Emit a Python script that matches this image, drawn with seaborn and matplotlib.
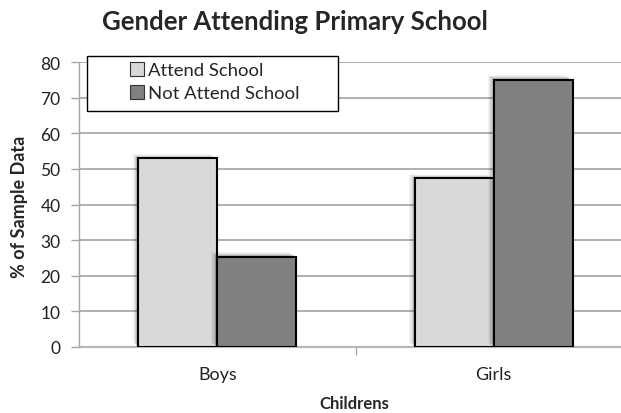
import matplotlib
matplotlib.use("Agg")
import matplotlib.pyplot as plt
import matplotlib.patheffects as pe
from matplotlib.patches import Patch, Rectangle
from matplotlib.ticker import FixedLocator
import seaborn as sns
import pandas as pd

categories = ["Boys", "Girls"]
series = ["Attend School", "Not Attend School"]
attend = [53.0, 47.4]
not_attend = [25.3, 75.0]
colors = ["#d9d9d9", "#808080"]

df = pd.DataFrame({
    "Childrens": categories * 2,
    "Series": [series[0]] * 2 + [series[1]] * 2,
    "Value": attend + not_attend,
})

sns.set_theme(style="white")
plt.rcParams["font.family"] = ["Lato", "DejaVu Sans"]

W, H = 621, 414
fig = plt.figure(figsize=(6.21, 4.14), dpi=100)
ax = fig.add_axes([79 / W, 1 - 348 / H, 1 - 79 / W, (348 - 63) / H])

sns.barplot(data=df, x="Childrens", y="Value", hue="Series", hue_order=series,
            palette=colors, width=0.57, gap=0, edgecolor="black", linewidth=1.5,
            ax=ax, legend=False, zorder=3)

for p in ax.patches:
    p.set_path_effects([
        pe.SimplePatchShadow(offset=(-4.5, 3.2), shadow_rgbFace="black", alpha=0.04),
        pe.SimplePatchShadow(offset=(-3.5, 2.5), shadow_rgbFace="black", alpha=0.06),
        pe.SimplePatchShadow(offset=(-2.5, 1.8), shadow_rgbFace="black", alpha=0.09),
        pe.SimplePatchShadow(offset=(-1.5, 1.0), shadow_rgbFace="black", alpha=0.13),
        pe.Normal(),
    ])

ax.set_ylim(0, 80)
ax.set_xlim(-0.5, 1.46)
ax.set_yticks(range(0, 81, 10))
ax.yaxis.grid(True, color="#9a9a9a", linewidth=1.1, zorder=0)
ax.xaxis.grid(False)
ax.set_axisbelow(True)

for s in ["top", "right"]:
    ax.spines[s].set_visible(False)
ax.spines["left"].set_color("#a6a6a6")
ax.spines["left"].set_linewidth(1.0)
ax.spines["bottom"].set_color("#b8b8b8")
ax.spines["bottom"].set_linewidth(1.6)

ax.tick_params(axis="y", left=True, length=5.8, color="#a6a6a6", width=1,
               labelsize=12.5, pad=7.5, labelcolor="#222222")
ax.tick_params(axis="x", which="major", bottom=False, length=0, labelsize=13,
               pad=14, labelcolor="#222222")
ax.xaxis.set_minor_locator(FixedLocator([0.5]))
ax.tick_params(axis="x", which="minor", bottom=True, length=6, color="#a6a6a6", width=1)

ax.set_xlabel("Childrens", fontsize=12, fontweight="bold")
ax.set_ylabel("% of Sample Data", fontsize=13, fontweight="bold")
ax.xaxis.set_label_coords((354 - 79) / 542, (348 - 404) / 285)
ax.xaxis.label.set_va("center")
ax.yaxis.set_label_coords((20 - 79) / 542, (348 - 207) / 285)
ax.yaxis.label.set_va("center")

fig.text(295 / W, 1 - 22 / H, "Gender Attending Primary School",
         fontsize=18.5, fontweight="bold", ha="center", va="center")

# legend frame
fig.patches.append(Rectangle((87 / W, 1 - 112 / H), (338 - 87) / W, (112 - 57) / H,
                             transform=fig.transFigure, facecolor="white",
                             edgecolor="black", linewidth=1.0, zorder=5))

handles = [Patch(facecolor=c, edgecolor="#333333", linewidth=0.8) for c in colors]
leg = fig.legend(handles, series, loc="upper left",
                 bbox_to_anchor=(130 / W, 1 - 63 / H),
                 frameon=False, fontsize=13.3, handlelength=0.78, handleheight=0.78,
                 handletextpad=0.17, borderpad=0, labelspacing=0.36,
                 borderaxespad=0)
leg.set_zorder(6)

fig.savefig("out.png", dpi=100)
